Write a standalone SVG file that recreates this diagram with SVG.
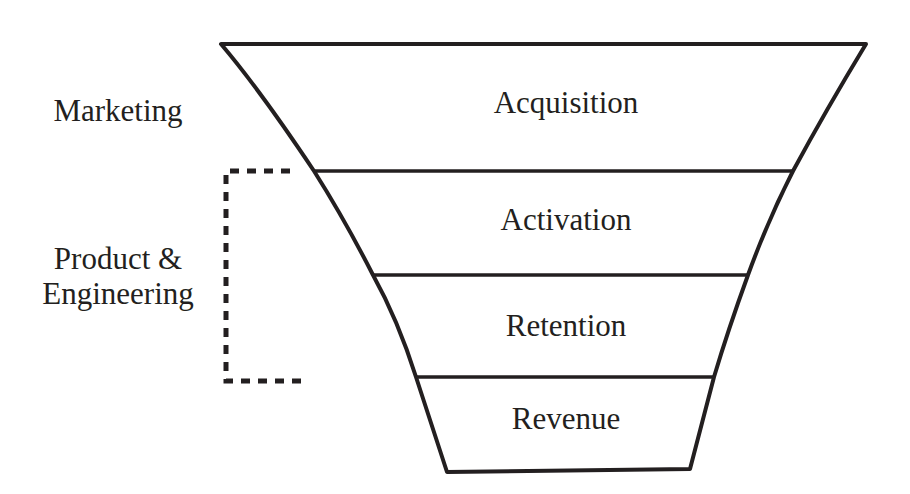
<svg xmlns="http://www.w3.org/2000/svg" width="910" height="494" viewBox="0 0 910 494">
<style>
.t{font-family:"Liberation Serif","Times New Roman",serif;font-size:31px;fill:#231f20;text-anchor:middle}
.ln{stroke:#231f20;stroke-width:4;fill:none;stroke-linecap:round;stroke-linejoin:round}
.sep{stroke:#231f20;stroke-width:3.5;fill:none}
.dash{stroke:#231f20;stroke-width:5;fill:none;stroke-dasharray:9 8}
</style>
<rect width="910" height="494" fill="#fff"/>
<g id="funnel">
<path class="ln" d="M221,44 L866,44 Q826,110 793,171 Q768,220 748,275 Q728,330 714,377 L690,469 L447,472 L416,377 Q398,320 373,275 Q345,220 314,171 Q260,90 221,44 Z"/>
</g>
<g id="acquisition">
<line class="sep" x1="314" y1="171" x2="793" y2="171"/>
<text class="t" x="566" y="113">Acquisition</text>
</g>
<g id="activation">
<line class="sep" x1="373" y1="275" x2="748" y2="275"/>
<text class="t" x="566" y="230">Activation</text>
</g>
<g id="retention">
<line class="sep" x1="416" y1="377" x2="714" y2="377"/>
<text class="t" x="566" y="336">Retention</text>
</g>
<g id="revenue">
<text class="t" x="566" y="429">Revenue</text>
</g>
<g id="marketing">
<text class="t" x="118" y="121">Marketing</text>
</g>
<g id="product">
<path class="dash" d="M290,171 L226,171 L226,381 L305,381"/>
<text class="t" x="118" y="269">Product &amp;</text>
<text class="t" x="118" y="304">Engineering</text>
</g>
</svg>
